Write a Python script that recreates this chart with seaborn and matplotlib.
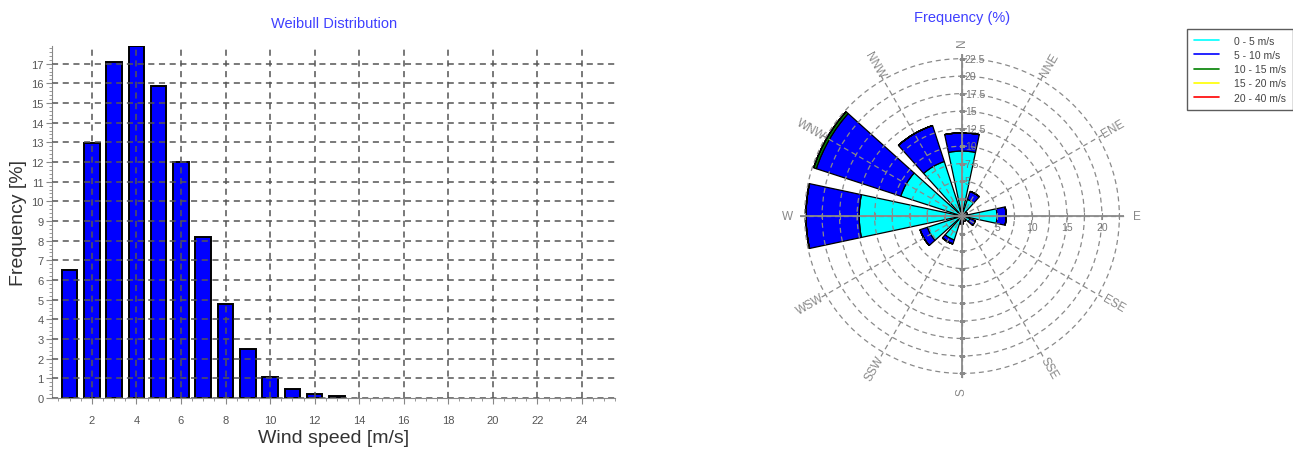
import numpy as np
import pandas as pd
import matplotlib
matplotlib.use("Agg")
import matplotlib.pyplot as plt
from matplotlib.ticker import MultipleLocator
from matplotlib.lines import Line2D
import seaborn as sns

# Weibull histogram values
speeds = [1, 2, 3, 4, 5, 6, 7, 8, 9, 10, 11, 12, 13]
freqs = [6.5, 12.95, 17.1, 17.9, 15.85, 12.0, 8.2, 4.8, 2.5, 1.05, 0.45, 0.2, 0.1]

# Wind rose: 12 sectors, stacked by speed class
directions = ["N", "NNE", "ENE", "E", "ESE", "SSE", "S", "SSW", "WSW", "W", "WNW", "NNW"]
bearings = [0, 30, 60, 90, 120, 150, 180, 210, 240, 270, 300, 330]
speed_0_5 = [9.3, 2.5, 0.5, 5.0, 1.2, 0.5, 0.5, 3.6, 5.2, 14.7, 9.2, 8.2]
speed_5_10 = [2.6, 1.2, 0.3, 1.3, 0.8, 0.3, 0.6, 0.6, 1.1, 7.6, 12.7, 5.4]
speed_10_15 = [0, 0, 0, 0, 0, 0, 0, 0, 0, 0, 0.4, 0]
speed_15_20 = [0] * 12
speed_20_40 = [0] * 12
classes = ["0 - 5 m/s", "5 - 10 m/s", "10 - 15 m/s", "15 - 20 m/s", "20 - 40 m/s"]
class_colors = ["#00FFFF", "#0000FF", "#008000", "#FFFF00", "#FF0000"]
ring_values = [2.5, 5, 7.5, 10, 12.5, 15, 17.5, 20, 22.5]

sns.set_style("white")
plt.rcParams["font.family"] = ["Liberation Sans", "DejaVu Sans"]

fig = plt.figure(figsize=(12.93, 4.56), dpi=100)

# ---- left: Weibull distribution ----
ax = fig.add_axes([0.040, 0.125, 0.436, 0.772])
hist = pd.DataFrame({"speed": speeds, "freq": freqs})
sns.barplot(data=hist, x="speed", y="freq", native_scale=True, color="#0000FF",
            saturation=1, edgecolor="black", linewidth=1.4, width=0.7, ax=ax)
ax.set_xlim(0.2, 25.5)
ax.set_ylim(0, 17.9)
ax.xaxis.set_major_locator(MultipleLocator(2))
ax.xaxis.set_minor_locator(MultipleLocator(0.5))
ax.yaxis.set_major_locator(MultipleLocator(1))
ax.yaxis.set_minor_locator(MultipleLocator(0.2))
ax.set_axisbelow(False)
ax.grid(True, which="major", color="#555555", linestyle=(0, (4, 3)), linewidth=1.1)
for s in ["top", "right"]:
    ax.spines[s].set_visible(False)
for s in ["left", "bottom"]:
    ax.spines[s].set_color("#888888")
ax.tick_params(axis="both", which="major", direction="out", length=4, width=0.8,
               color="#888888", labelsize=8, labelcolor="#555555", pad=2)
ax.tick_params(axis="both", which="minor", direction="out", length=2.5, width=0.6,
               color="#888888")
ax.tick_params(axis="x", which="major", pad=8)
ax.tick_params(bottom=True, left=True, which="both")
ax.set_xlabel("Wind speed [m/s]", fontsize=14, color="#333333", labelpad=3)
ax.set_ylabel("Frequency [%]", fontsize=14, color="#333333", labelpad=3)
ax.set_title("Weibull Distribution", fontsize=10.5, color="#4040FF", pad=14)

# ---- right: wind rose ----
rmax = 23.2
pax = fig.add_axes([0.6185, 0.168, 0.251, 0.712], projection="polar")
pax.set_theta_zero_location("N")
pax.set_theta_direction(-1)
theta = np.deg2rad(bearings)
width = np.deg2rad(24)
bottom = np.zeros(len(bearings))
for vals, col in zip([speed_0_5, speed_5_10, speed_10_15, speed_15_20, speed_20_40],
                     class_colors):
    vals = np.array(vals)
    pax.bar(theta, vals, width=width, bottom=bottom, color=col,
            edgecolor="black", linewidth=0.9, align="center")
    bottom = bottom + vals

pax.set_ylim(0, rmax)
pax.set_rgrids(ring_values, labels=[])
pax.set_thetagrids(bearings, labels=[])
pax.set_axisbelow(False)
pax.grid(True, color="#8a8a8a", linestyle=(0, (4, 3)), linewidth=0.9)
pax.spines["polar"].set_visible(False)
pax.vlines(np.deg2rad([0, 90, 180, 270]), 0, rmax, color="#8a8a8a", linewidth=1.3,
           zorder=3)
pax.scatter(np.deg2rad([0] * 9 + [180] * 9), ring_values * 2, marker="_", s=18,
            color="#8a8a8a", linewidths=0.8, zorder=3)
pax.scatter(np.deg2rad([90] * 9 + [270] * 9), ring_values * 2, marker="|", s=18,
            color="#8a8a8a", linewidths=0.8, zorder=3)

for r in ring_values[1:]:
    pax.annotate(f"{r:g}", xy=(0, r), xytext=(2, 0), textcoords="offset points",
                 ha="left", va="center", fontsize=7.5, color="#777777")
for r in [5, 10, 15, 20]:
    pax.annotate(f"{r:g}", xy=(np.pi / 2, r), xytext=(0, -8), textcoords="offset points",
                 ha="center", va="center", fontsize=7.5, color="#777777")

for name, b in zip(directions, bearings):
    rot = 90 - b if b < 180 else 270 - b
    pax.text(np.deg2rad(b), 25.0, name, rotation=rot, rotation_mode="anchor",
             ha="center", va="center", fontsize=8.5, color="#888888", clip_on=False)

fig.text(0.744, 0.96, "Frequency (%)", ha="center", va="center", fontsize=10.5,
         color="#4040FF")

handles = [Line2D([0], [0], color=c, linewidth=1.2) for c in class_colors]
leg = fig.legend(handles, classes, loc="upper left", bbox_to_anchor=(0.918, 0.935),
                 fontsize=7.5, frameon=True, fancybox=False, handlelength=2.4,
                 borderpad=0.7, labelspacing=0.4, handletextpad=1.4,
                 borderaxespad=0)
leg.get_frame().set_edgecolor("#333333")
leg.get_frame().set_linewidth(1.0)
for t in leg.get_texts():
    t.set_color("#444444")

fig.savefig("out.png", dpi=100)
